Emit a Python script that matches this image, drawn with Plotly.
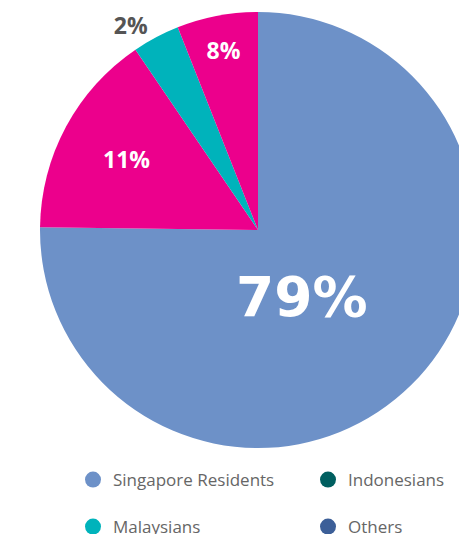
import plotly.graph_objects as go

# Slice order, clockwise from 12 o'clock
slice_labels = ["Singapore Residents", "Other nationalities (A)", "Malaysians", "Other nationalities (B)"]
slice_shares = [75.2, 15.3, 3.5, 6.0]          # angular shares as drawn
slice_text = ["79%", "11%", "2%", "8%"]        # printed labels
slice_colors = ["#6d91c8", "#ec008c", "#00b3bb", "#ec008c"]
text_colors = ["#ffffff", "#ffffff", "#555555", "#ffffff"]
text_positions = ["none", "inside", "outside", "inside"]

legend_names = ["Singapore Residents", "Indonesians", "Malaysians", "Others"]
legend_colors = ["#6d91c8", "#005f60", "#00b3bb", "#3c5f98"]

W, H = 480, 560

fig = go.Figure()
fig.add_trace(go.Pie(
    labels=slice_labels,
    values=slice_shares,
    text=slice_text,
    textinfo="text",
    textposition=text_positions,
    insidetextorientation="horizontal",
    textfont=dict(family="Open Sans", size=23, color=text_colors, weight=700),
    marker=dict(colors=slice_colors, line=dict(width=0)),
    sort=False,
    direction="clockwise",
    rotation=0,
    showlegend=False,
    domain=dict(x=[40 / W, 476 / W], y=[1 - 448 / H, 1 - 12 / H]),
    hoverinfo="label+text",
))

# big label of the main slice
fig.add_annotation(
    text=slice_text[0], xref="paper", yref="paper",
    x=302 / W, y=1 - 297 / H, showarrow=False,
    font=dict(family="DejaVu Sans", size=55, color="#ffffff", weight=700),
)

legend_slots = [(73, 480), (308, 480), (73, 527), (308, 527)]
legend_keys = ["legend", "legend2", "legend3", "legend4"]
layout_legends = {}
for n, c, key, (lx, ly) in zip(legend_names, legend_colors, legend_keys, legend_slots):
    fig.add_trace(go.Scatter(
        x=[None], y=[None], mode="markers", name=n,
        marker=dict(color=c, size=18, symbol="circle"),
        legend=key, showlegend=True,
    ))
    layout_legends[key] = dict(
        x=lx / W, y=1 - ly / H, xanchor="left", yanchor="middle",
        orientation="h",
        font=dict(family="Open Sans", size=17, color="#666666"),
        bgcolor="rgba(0,0,0,0)", itemclick=False, itemdoubleclick=False,
    )

fig.update_layout(
    width=W, height=H,
    margin=dict(l=0, r=0, t=0, b=0),
    paper_bgcolor="white", plot_bgcolor="white",
    xaxis=dict(visible=False), yaxis=dict(visible=False),
    **layout_legends,
)

fig.write_html(
    "out.html",
    post_script="document.body.style.overflow='hidden';document.documentElement.style.overflow='hidden';",
)
